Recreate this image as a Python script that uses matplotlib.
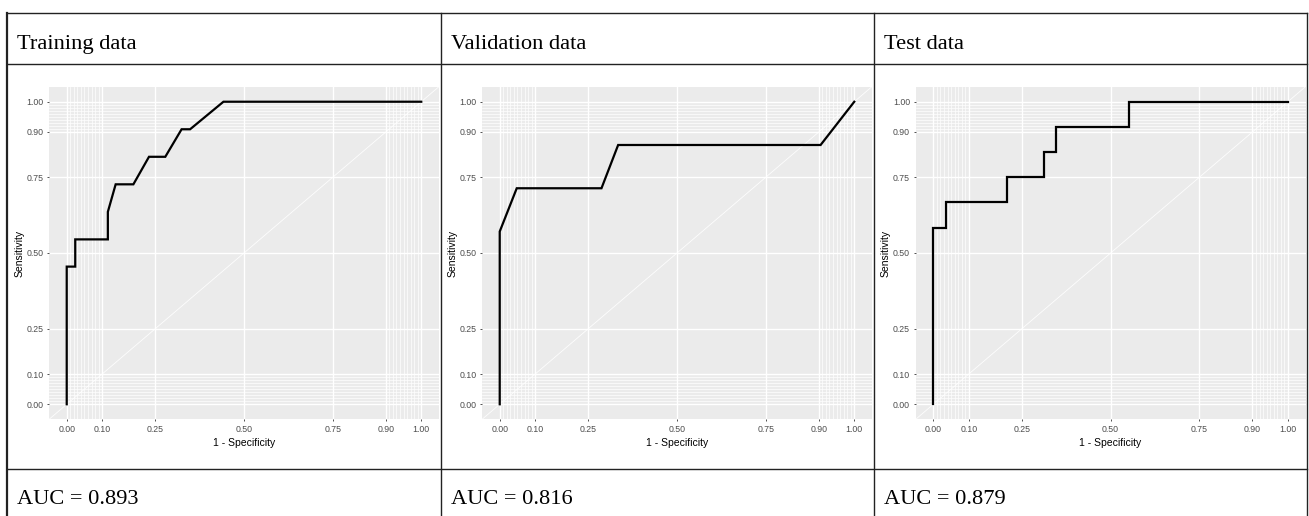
import numpy as np
import matplotlib
matplotlib.use("Agg")
from matplotlib import pyplot as plt
from matplotlib.lines import Line2D

# 表のテキスト
titles = ["Training data", "Validation data", "Test data"]
auc_values = [0.893, 0.816, 0.879]

# ROC曲線 (1 - Specificity, Sensitivity)
train_fpr = [0.0, 0.0, 0.024, 0.024, 0.116, 0.116, 0.138, 0.188, 0.232, 0.278, 0.324, 0.348, 0.442, 1.0]
train_tpr = [0.0, 0.455, 0.455, 0.545, 0.545, 0.636, 0.727, 0.727, 0.818, 0.818, 0.909, 0.909, 1.0, 1.0]

valid_fpr = [0.0, 0.0, 0.048, 0.287, 0.334, 0.905, 1.0]
valid_tpr = [0.0, 0.571, 0.714, 0.714, 0.857, 0.857, 1.0]

test_fpr = [0.0, 0.0, 0.037, 0.037, 0.207, 0.207, 0.311, 0.311, 0.345, 0.345, 0.552, 0.552, 1.0]
test_tpr = [0.0, 0.583, 0.583, 0.667, 0.667, 0.75, 0.75, 0.833, 0.833, 0.917, 0.917, 1.0, 1.0]

curves = [(train_fpr, train_tpr), (valid_fpr, valid_tpr), (test_fpr, test_tpr)]

major_breaks = [0, 0.1, 0.25, 0.5, 0.75, 0.9, 1.0]
minor_breaks = [0.01, 0.02, 0.03, 0.04, 0.05, 0.06, 0.07, 0.08, 0.09,
                0.91, 0.92, 0.93, 0.94, 0.95, 0.96, 0.97, 0.98, 0.99]
break_labels = ["0.00", "0.10", "0.25", "0.50", "0.75", "0.90", "1.00"]

W, H = 1309, 516
fig = plt.figure(figsize=(W / 100, H / 100), dpi=100)


def px(x, y):
    # ピクセル座標 -> figure座標
    return x / W, 1 - y / H


# 表の罫線
col_x = [7, 441, 874, 1307]
row_y = [13, 64, 469]
for y in row_y:
    fig.add_artist(Line2D([col_x[0] / W, col_x[-1] / W], [1 - y / H, 1 - y / H],
                          color="#222222", lw=1.0, transform=fig.transFigure))
for i, x in enumerate(col_x):
    fig.add_artist(Line2D([x / W, x / W], [1 - row_y[0] / H, 0],
                          color="#222222", lw=1.6 if i == 0 else 1.0,
                          transform=fig.transFigure))

serif = ["Liberation Serif", "DejaVu Serif"]
sans = ["Liberation Sans", "DejaVu Sans"]

panel_left = [49, 482, 915.6]
panel_top, panel_bottom = 86.6, 419.4
panel_w = 390

for i in range(3):
    tx = col_x[i] + 10
    fig.text(*px(tx, 49), titles[i], family=serif, fontsize=16.1, va="baseline", ha="left")
    fig.text(*px(tx, 504), "AUC = %.3f" % auc_values[i], family=serif, fontsize=16.1,
             va="baseline", ha="left")

    l, b = px(panel_left[i], panel_bottom)
    ax = fig.add_axes([l, b, panel_w / W, (panel_bottom - panel_top) / H])
    ax.set_facecolor("#EBEBEB")
    ax.set_xlim(-0.05, 1.05)
    ax.set_ylim(-0.05, 1.05)
    ax.set_xticks(major_breaks)
    ax.set_xticklabels(break_labels)
    ax.set_yticks(major_breaks)
    ax.set_yticklabels(break_labels)
    ax.set_xticks(minor_breaks, minor=True)
    ax.set_yticks(minor_breaks, minor=True)
    ax.grid(which="major", color="white", lw=1.0)
    ax.grid(which="minor", color="white", lw=0.5)
    ax.set_axisbelow(True)
    for s in ax.spines.values():
        s.set_visible(False)
    ax.tick_params(which="major", length=1.6, width=0.6, color="#333333",
                   labelsize=6.3, labelcolor="#4D4D4D", pad=2.4)
    ax.tick_params(which="minor", length=0)
    for lab in ax.get_xticklabels() + ax.get_yticklabels():
        lab.set_family(sans)

    ax.axline((0, 0), (1, 1), color="white", lw=0.6, alpha=0.9)
    fpr, tpr = curves[i]
    ax.plot(fpr, tpr, color="black", lw=1.6, solid_joinstyle="miter")

    ax.set_xlabel("1 - Specificity", family=sans, fontsize=7.5, labelpad=3)
    ax.set_ylabel("Sensitivity", family=sans, fontsize=7.5, labelpad=1.5)

fig.savefig("out.png", dpi=100, facecolor="white")
